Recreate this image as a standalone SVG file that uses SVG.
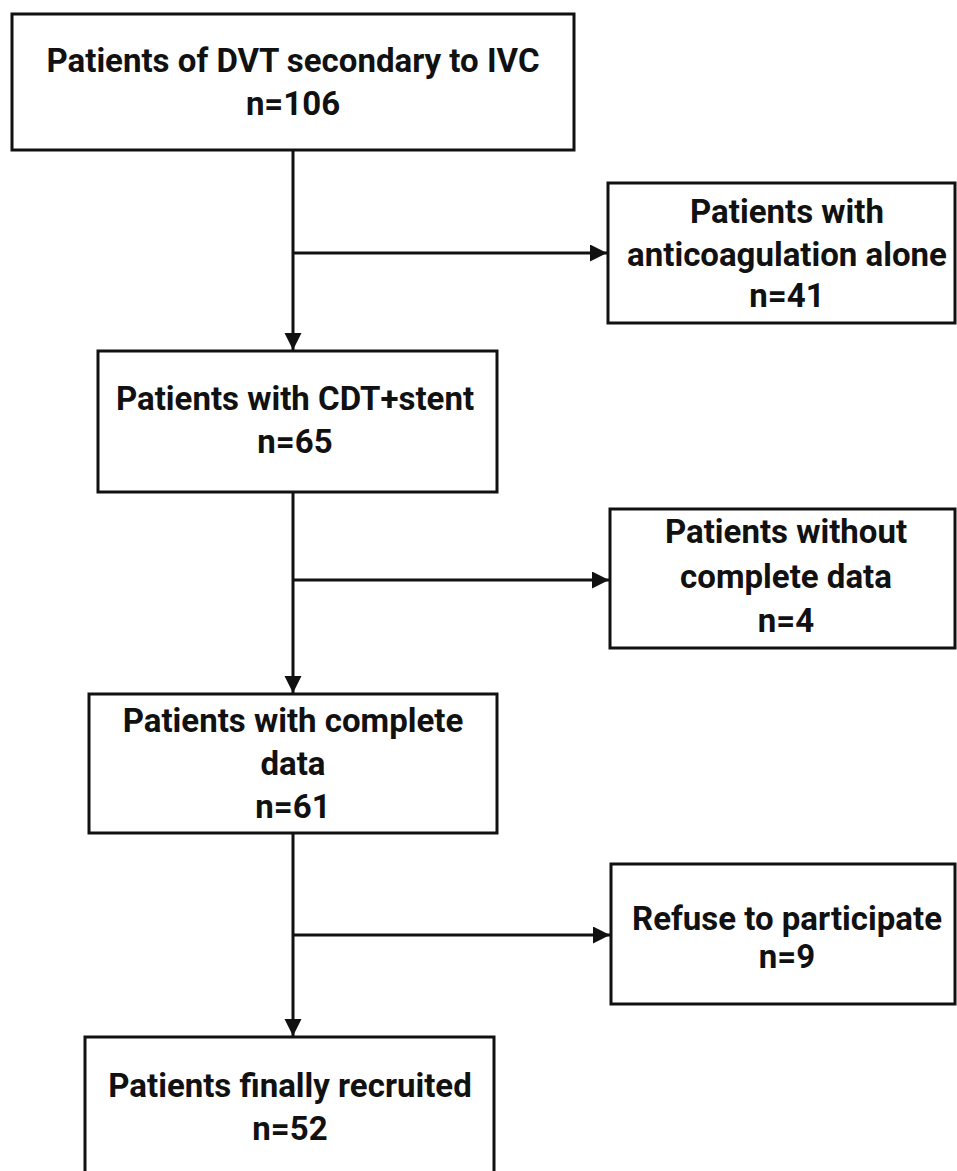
<svg xmlns="http://www.w3.org/2000/svg" width="957" height="1171" viewBox="0 0 957 1171">
<style>
.box{fill:#fff;stroke:#111;stroke-width:3}
.t{font-family:Roboto,"Liberation Sans",sans-serif;font-weight:700;font-size:33px;fill:#111;text-anchor:middle}
.c{stroke:#111;stroke-width:3;fill:none}
</style>
<defs>
<marker id="ah" markerUnits="userSpaceOnUse" markerWidth="18" markerHeight="18" refX="17" refY="8.5" orient="auto">
<path d="M0,0 L17,8.5 L0,17 z" fill="#111"/>
</marker>
</defs>
<rect width="957" height="1171" fill="#fff"/>
<g id="connectors">
<line class="c" x1="293" y1="150" x2="293" y2="350" marker-end="url(#ah)"/>
<line class="c" x1="293" y1="253" x2="607" y2="253" marker-end="url(#ah)"/>
<line class="c" x1="293" y1="492" x2="293" y2="693" marker-end="url(#ah)"/>
<line class="c" x1="293" y1="580" x2="609" y2="580" marker-end="url(#ah)"/>
<line class="c" x1="293" y1="833" x2="293" y2="1036" marker-end="url(#ah)"/>
<line class="c" x1="293" y1="935" x2="610" y2="935" marker-end="url(#ah)"/>
</g>
<g id="n1">
<rect class="box" x="12" y="14" width="562" height="136"/>
<text class="t" x="293" y="72">Patients of DVT secondary to IVC</text>
<text class="t" x="293" y="115">n=106</text>
</g>
<g id="n2">
<rect class="box" x="608" y="183" width="347" height="140"/>
<text class="t" x="787" y="223">Patients with</text>
<text class="t" x="787" y="266">anticoagulation alone</text>
<text class="t" x="787" y="307">n=41</text>
</g>
<g id="n3">
<rect class="box" x="98" y="351" width="399" height="141"/>
<text class="t" x="295" y="410">Patients with CDT+stent</text>
<text class="t" x="295" y="453">n=65</text>
</g>
<g id="n4">
<rect class="box" x="610" y="509" width="345" height="139"/>
<text class="t" x="786" y="543">Patients without</text>
<text class="t" x="786" y="588">complete data</text>
<text class="t" x="786" y="632">n=4</text>
</g>
<g id="n5">
<rect class="box" x="89" y="694" width="408" height="139"/>
<text class="t" x="293" y="732">Patients with complete</text>
<text class="t" x="293" y="775">data</text>
<text class="t" x="293" y="818">n=61</text>
</g>
<g id="n6">
<rect class="box" x="611" y="864" width="344" height="140"/>
<text class="t" x="787" y="930">Refuse to participate</text>
<text class="t" x="787" y="968">n=9</text>
</g>
<g id="n7">
<rect class="box" x="85" y="1037" width="409" height="150"/>
<text class="t" x="290" y="1097">Patients finally recruited</text>
<text class="t" x="290" y="1140">n=52</text>
</g>
</svg>
